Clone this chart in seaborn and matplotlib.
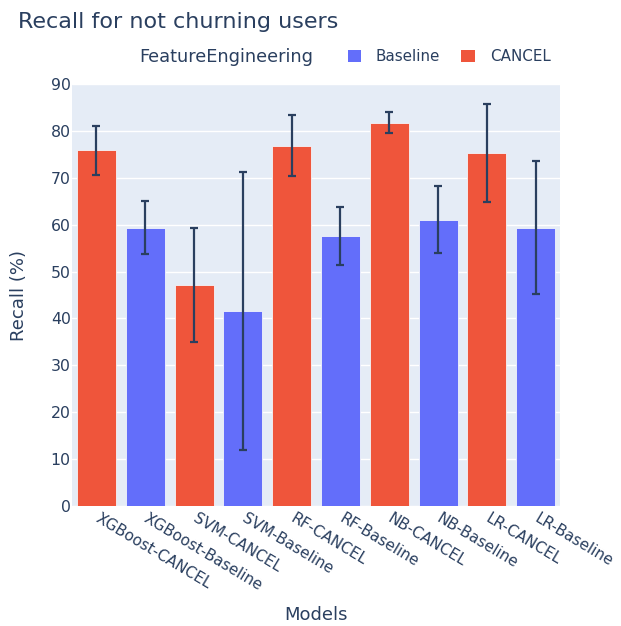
import numpy as np
import pandas as pd
import matplotlib
matplotlib.use("Agg")
import matplotlib.pyplot as plt
from matplotlib.patches import Patch
import seaborn as sns

models = ["XGBoost-CANCEL", "XGBoost-Baseline", "SVM-CANCEL", "SVM-Baseline",
          "RF-CANCEL", "RF-Baseline", "NB-CANCEL", "NB-Baseline",
          "LR-CANCEL", "LR-Baseline"]
feature_engineering = ["CANCEL", "Baseline", "CANCEL", "Baseline", "CANCEL",
                       "Baseline", "CANCEL", "Baseline", "CANCEL", "Baseline"]
recall = [75.85, 59.35, 47.15, 41.6, 76.85, 57.55, 81.75, 61.1, 75.25, 59.35]
recall_std = [5.15, 5.65, 12.15, 29.7, 6.45, 6.25, 2.25, 7.1, 10.45, 14.15]
y_ticks = [0, 10, 20, 30, 40, 50, 60, 70, 80, 90]

palette = {"Baseline": "#636EFA", "CANCEL": "#EF553B"}
text_color = "#2A3F5F"

df = pd.DataFrame({"Models": models, "FeatureEngineering": feature_engineering,
                   "Recall": recall, "Std": recall_std})

sns.set_theme(style="darkgrid", rc={
    "axes.facecolor": "#E5ECF6",
    "grid.color": "white",
    "grid.linewidth": 1.0,
    "text.color": text_color,
    "axes.labelcolor": text_color,
    "xtick.color": text_color,
    "ytick.color": text_color,
})
plt.rcParams["font.family"] = ["DejaVu Sans"]

fig = plt.figure(figsize=(6.21, 6.26), dpi=100)
ax = fig.add_axes([0.116, 0.1917, 0.786, 0.6741])

sns.barplot(data=df, x="Models", y="Recall", hue="FeatureEngineering",
            hue_order=["Baseline", "CANCEL"], palette=palette, dodge=False,
            saturation=1, width=0.8, edgecolor="#F3F5FB", linewidth=0.6,
            legend=False, ax=ax)

ax.errorbar(np.arange(len(models)), df["Recall"], yerr=df["Std"], fmt="none",
            ecolor=text_color, elinewidth=1.6, capsize=3.2, capthick=1.6, zorder=5)

ax.set_ylim(0, 90)
ax.set_yticks(y_ticks)
ax.set_xlim(-0.5, len(models) - 0.5)
ax.grid(axis="x", visible=False)
ax.grid(axis="y", visible=True)
for s in ax.spines.values():
    s.set_visible(False)
ax.tick_params(axis="x", length=0, labelsize=11, colors=text_color)
ax.tick_params(axis="y", length=0, labelsize=11.3, colors=text_color, pad=1)
ax.set_xticks(np.arange(len(models)))
ax.set_xticklabels(models, rotation=-31, ha="left", va="center",
                   rotation_mode="anchor")
for lbl in ax.get_xticklabels():
    lbl.set_y(-0.015)

ax.set_xlabel("Models", fontsize=13, color=text_color, labelpad=9)
ax.set_ylabel("Recall (%)", fontsize=13, color=text_color, labelpad=16)

fig.text(0.029, 0.965, "Recall for not churning users", fontsize=16,
         color=text_color, ha="left", va="center")
fig.text(0.224, 0.909, "FeatureEngineering", fontsize=12.8,
         color=text_color, ha="left", va="center")
handles = [Patch(facecolor=palette[k], edgecolor="none") for k in ["Baseline", "CANCEL"]]
fig.legend(handles, ["Baseline", "CANCEL"], loc="center left",
           bbox_to_anchor=(0.560, 0.910), ncol=2, frameon=False,
           borderpad=0, borderaxespad=0,
           fontsize=10.9, handlelength=0.86, handleheight=0.86, handletextpad=1.0,
           columnspacing=1.4, labelcolor=text_color)

fig.savefig("out.png", dpi=100)
